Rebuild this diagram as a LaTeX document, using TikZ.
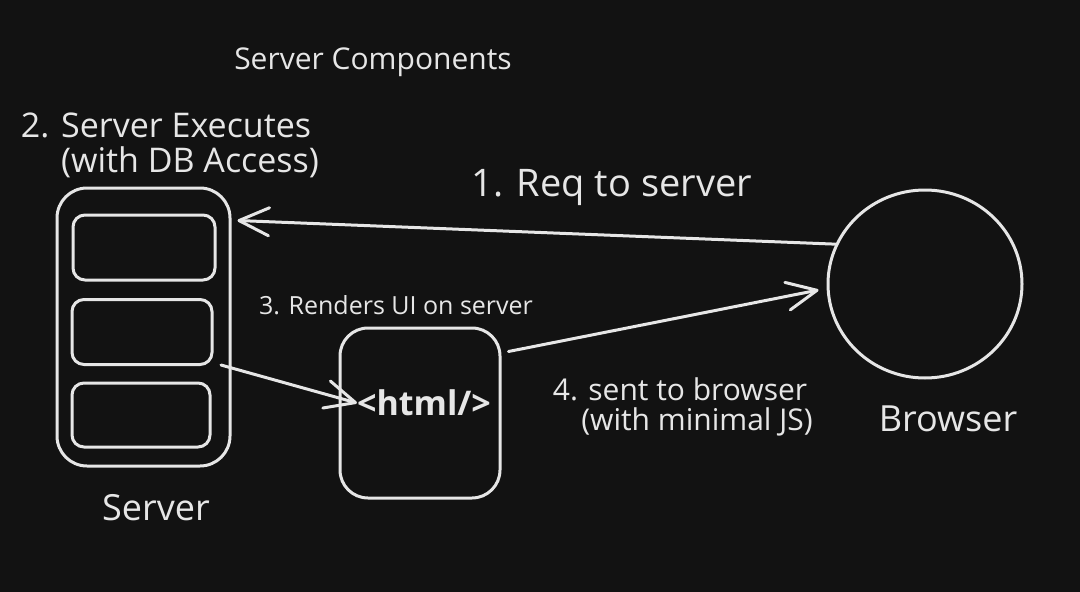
\documentclass[tikz,border=0pt]{standalone}
\usepackage{fontspec}
\setmainfont{Open Sans}
\usetikzlibrary{arrows.meta,calc,shapes.geometric}
\definecolor{bg}{HTML}{121212}
\definecolor{ink}{HTML}{E6E6E6}
\tikzset{
  shapebox/.style={draw=ink, line width=3pt, rounded corners=#1, inner sep=0pt},
  shapebox/.default=12pt,
  lbl/.style={text=ink, inner sep=0pt, font=\fontsize{#1}{#1}\selectfont},
  conn/.style={draw=ink, line width=3pt, line cap=round,
    -{Straight Barb[length=30pt,width=28pt,line width=3pt,round]}},
}
\begin{document}
\begin{tikzpicture}[x=1pt,y=-1pt]
\fill[bg] (0,0) rectangle (1080,592);
\useasboundingbox (0,0) rectangle (1080,592);
% texts
\node[lbl=30] (title) at (373,62) {Server Components};
\node[lbl=34] (exec1) at (166,125) {2. Server Executes};
\node[lbl=34] (exec2) at (190,162) {(with DB Access)};
\node[lbl=38] (req) at (612,187) {1. Req to server};
\node[lbl=25] (renders) at (396,305) {3. Renders UI on server};
\node[lbl=30] (sent1) at (680,389) {4. sent to browser};
\node[lbl=30] (sent2) at (697,422) {(with minimal JS)};
\node[lbl=36] (servlabel) at (156,508) {Server};
\node[lbl=36] (browlabel) at (948,419) {Browser};
% server
\node[shapebox=30pt, minimum width=173pt, minimum height=278pt] (server) at (143.5,327) {};
\node[shapebox=12pt, minimum width=142pt, minimum height=65pt] (s1) at (144,247.5) {};
\node[shapebox=12pt, minimum width=140pt, minimum height=65pt] (s2) at (142,332) {};
\node[shapebox=12pt, minimum width=138pt, minimum height=64pt] (s3) at (141,415) {};
% html box
\node[shapebox=28pt, minimum width=160pt, minimum height=170pt] (html) at (420,413) {};
\node[lbl=34, font=\bfseries\fontsize{34}{34}\selectfont] (htmltxt) at (424,403) {<html/>};
% browser
\node[draw=ink, line width=3pt, ellipse, minimum width=194pt, minimum height=188pt, inner sep=0pt] (browser) at (925,284) {};
% connectors
\coordinate (a3s) at (221,365);
\draw[conn] (browser.156) -- ($(server.north east)+(6,34)$);
\draw[conn] (a3s) -- (htmltxt.west);
\draw[conn] ($(html.north east)+(7,25)$) -- ($(browser.west)+(-8,6)$);
\end{tikzpicture}
\end{document}
